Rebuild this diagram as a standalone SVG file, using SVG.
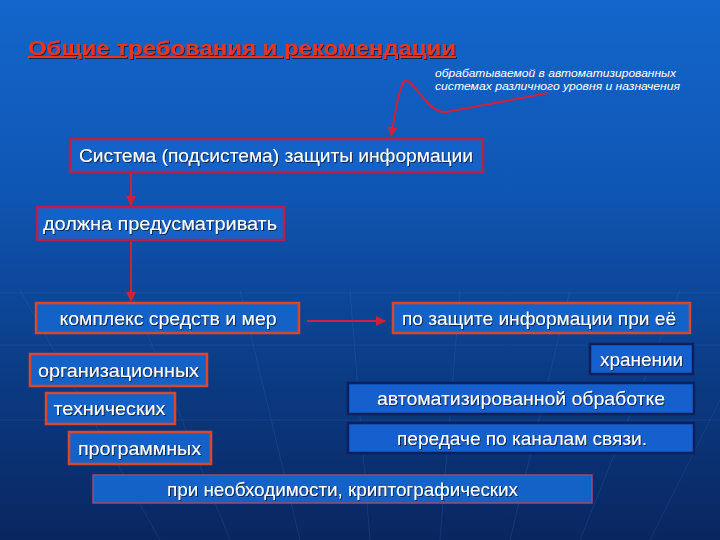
<svg xmlns="http://www.w3.org/2000/svg" width="720" height="540" viewBox="0 0 720 540">
<defs>
<linearGradient id="bg" x1="0" y1="0" x2="0" y2="1">
<stop offset="0" stop-color="#1366cc"/>
<stop offset="0.35" stop-color="#0f56b4"/>
<stop offset="0.7" stop-color="#0b3b84"/>
<stop offset="1" stop-color="#0a2660"/>
</linearGradient>
<marker id="ah" viewBox="0 0 10 10" refX="9" refY="5" markerWidth="5" markerHeight="5" orient="auto-start-reverse">
<path d="M0,0 L10,5 L0,10 z" fill="#d0203a"/>
</marker>
<filter id="sh" x="-5%" y="-20%" width="110%" height="150%">
<feDropShadow dx="1" dy="1" stdDeviation="0.6" flood-color="#0a1a40" flood-opacity="0.9"/>
</filter>
</defs>
<style>
.box{fill:#1462c8;stroke-width:2.5}
.cr{stroke:#b8204c}
.or{stroke:#d8482a}
.nv{stroke:#0d1f5c;fill:#1560cc}
.pu{stroke:#9a4a78;stroke-width:1.5}
.t{font-family:"Liberation Sans",Arial,sans-serif;font-size:18.5px;fill:#ffffff;text-anchor:middle;filter:url(#sh)}
.con{stroke:#d0203a;stroke-width:2;fill:none}
</style>
<rect width="720" height="540" fill="url(#bg)"/>
<g stroke="#4a7fd0" stroke-opacity="0.18" stroke-width="1" fill="none">
<line x1="0" y1="293" x2="720" y2="293"/>
<line x1="0" y1="345" x2="720" y2="345"/>
<line x1="0" y1="420" x2="720" y2="420"/>
<line x1="230" y1="540" x2="130" y2="290"/>
<line x1="300" y1="540" x2="240" y2="290"/>
<line x1="370" y1="540" x2="350" y2="290"/>
<line x1="440" y1="540" x2="460" y2="290"/>
<line x1="510" y1="540" x2="570" y2="290"/>
<line x1="580" y1="540" x2="680" y2="290"/>
<line x1="160" y1="540" x2="20" y2="290"/>
<line x1="650" y1="540" x2="720" y2="400"/>
</g>
<g id="title">
<text x="28" y="55" font-family="'Liberation Sans',Arial,sans-serif" font-size="20" font-weight="bold" fill="#e8361e" text-decoration="underline" textLength="428" lengthAdjust="spacingAndGlyphs" filter="url(#sh)">Общие требования и рекомендации</text>
</g>
<g id="note">
<text font-family="'Liberation Sans',Arial,sans-serif" font-size="10.5" font-style="italic" fill="#ffffff">
<tspan x="435" y="77" textLength="241" lengthAdjust="spacingAndGlyphs">обрабатываемой в автоматизированных</tspan>
<tspan x="435" y="90" textLength="245" lengthAdjust="spacingAndGlyphs">системах различного уровня и назначения</tspan>
</text>
</g>
<g id="connectors">
<path class="con" d="M548,93 C520,98 470,108 447,112 C430,114 420,90 408,81 C400,76 396,110 391,136" marker-end="url(#ah)"/>
<line class="con" x1="131" y1="173" x2="131" y2="205" marker-end="url(#ah)"/>
<line class="con" x1="131" y1="241" x2="131" y2="301" marker-end="url(#ah)"/>
<line class="con" x1="307" y1="321" x2="385" y2="321" marker-end="url(#ah)"/>
</g>
<g id="n1"><rect class="box cr" x="70" y="139" width="413" height="33"/><text class="t" x="276" y="162" textLength="394" lengthAdjust="spacingAndGlyphs">Система (подсистема) защиты информации</text></g>
<g id="n2"><rect class="box cr" x="37" y="207" width="247" height="33"/><text class="t" x="160" y="230" textLength="234" lengthAdjust="spacingAndGlyphs">должна предусматривать</text></g>
<g id="n3"><rect class="box or" x="36" y="303" width="263" height="30"/><text class="t" x="168" y="324.5" textLength="217" lengthAdjust="spacingAndGlyphs">комплекс средств и мер</text></g>
<g id="n4"><rect class="box or" x="393" y="303" width="297" height="30"/><text class="t" x="539" y="324.5" textLength="274" lengthAdjust="spacingAndGlyphs">по защите информации при её</text></g>
<g id="n5"><rect class="box nv" x="590" y="344" width="103" height="30"/><text class="t" x="641.5" y="365.5" textLength="83" lengthAdjust="spacingAndGlyphs">хранении</text></g>
<g id="n6"><rect class="box or" x="30" y="354" width="177" height="32"/><text class="t" x="118.5" y="376.5" textLength="161" lengthAdjust="spacingAndGlyphs">организационных</text></g>
<g id="n7"><rect class="box or" x="46" y="393" width="129" height="31"/><text class="t" x="109.5" y="415" textLength="112" lengthAdjust="spacingAndGlyphs">технических</text></g>
<g id="n8"><rect class="box or" x="69" y="432" width="142" height="32"/><text class="t" x="139.5" y="454.5" textLength="123" lengthAdjust="spacingAndGlyphs">программных</text></g>
<g id="n9"><rect class="box nv" x="348" y="383" width="346" height="31"/><text class="t" x="521" y="405" textLength="288" lengthAdjust="spacingAndGlyphs">автоматизированной обработке</text></g>
<g id="n10"><rect class="box nv" x="348" y="423" width="346" height="30"/><text class="t" x="522" y="444.5" textLength="250" lengthAdjust="spacingAndGlyphs">передаче по каналам связи.</text></g>
<g id="n11"><rect class="box pu" x="93" y="475" width="499" height="28"/><text class="t" x="342.5" y="495.5" textLength="351" lengthAdjust="spacingAndGlyphs">при необходимости, криптографических</text></g>
</svg>
